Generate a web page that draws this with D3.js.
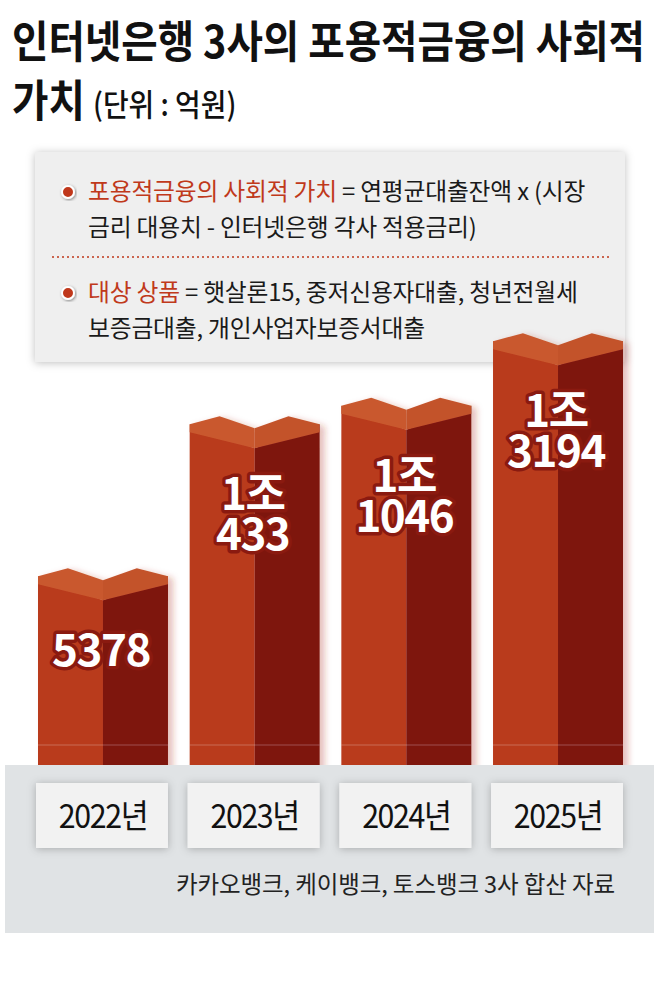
<!DOCTYPE html>
<html>
<head>
<meta charset="utf-8">
<script src="https://cdn.jsdelivr.net/npm/d3@7"></script>
<style>
  html, body { margin: 0; padding: 0; background: #fff; }
  svg { display: block; }
  text { font-family: "Noto Sans CJK KR", "Noto Sans", sans-serif; }
</style>
</head>
<body>
<div id="chart"></div>
<script>
// data
const years = ['2022년', '2023년', '2024년', '2025년'];
const values = [5378, 10433, 11046, 13194];
const labelLines = [['5378'], ['1조', '433'], ['1조', '1046'], ['1조', '3194']];

const width = 659, height = 992;
const svg = d3.select('#chart').append('svg')
    .attr('width', width)
    .attr('height', height);

const defs = svg.append('defs');
const shadow = (id, dx, dy, blur, color) => {
    const f = defs.append('filter').attr('id', id)
        .attr('x', '-20%').attr('y', '-20%').attr('width', '140%').attr('height', '140%');
    f.append('feDropShadow').attr('dx', dx).attr('dy', dy)
        .attr('stdDeviation', blur).attr('flood-color', color);
};
shadow('boxShadow', 0, 1, 4, 'rgba(0,0,0,0.25)');
shadow('barShadow', 5, 2, 3, 'rgba(170,50,30,0.3)');
shadow('dotShadow', 1, 1, 1.5, 'rgba(0,0,0,0.45)');

// title (condensed look via horizontal scale)
svg.append('text')
    .attr('transform', 'translate(12,58) scale(0.9,1)')
    .attr('font-size', 44).attr('font-weight', 700)
    .attr('fill', '#111')
    .text('인터넷은행 3사의 포용적금융의 사회적');

svg.append('text')
    .attr('transform', 'translate(12,117) scale(0.9,1)')
    .attr('font-size', 44).attr('font-weight', 700)
    .attr('fill', '#111')
    .text('가치');
svg.append('text')
    .attr('transform', 'translate(93,116) scale(0.9,1)')
    .attr('font-size', 31).attr('font-weight', 500)
    .attr('fill', '#111')
    .text('(단위 : 억원)');

// legend box
svg.append('rect')
    .attr('x', 35).attr('y', 152)
    .attr('width', 590).attr('height', 210)
    .attr('fill', '#efefef')
    .attr('filter', 'url(#boxShadow)');

const red = '#c0391b';
const legendRows = [
    { y: 200, key: '포용적금융의 사회적 가치', rest: ' = 연평균대출잔액 x (시장', line2: '금리 대용치 - 인터넷은행 각사 적용금리)' },
    { y: 301, key: '대상 상품', rest: ' = 햇살론15, 중저신용자대출, 청년전월세', line2: '보증금대출, 개인사업자보증서대출' }
];
legendRows.forEach(r => {
    svg.append('circle')
        .attr('cx', 68).attr('cy', r.y - 8).attr('r', 6)
        .attr('fill', red).attr('stroke', '#fff').attr('stroke-width', 2)
        .attr('filter', 'url(#dotShadow)');
    const t = svg.append('text')
        .attr('x', 88).attr('y', r.y)
        .attr('font-size', 23.8).attr('letter-spacing', -0.2)
        .attr('fill', '#1a1a1a');
    t.append('tspan').attr('fill', red).text(r.key);
    t.append('tspan').text(r.rest);
    svg.append('text')
        .attr('x', 88).attr('y', r.y + 36)
        .attr('font-size', 23.8).attr('letter-spacing', -0.2)
        .attr('fill', '#1a1a1a')
        .text(r.line2);
});
svg.append('line')
    .attr('x1', 52).attr('x2', 610)
    .attr('y1', 257).attr('y2', 257)
    .attr('stroke', red).attr('stroke-width', 1.5)
    .attr('stroke-dasharray', '2,3');

// scales
const x = d3.scaleBand()
    .domain(years)
    .range([38, 623])
    .paddingInner(0.143);

const y = d3.scaleLinear()
    .domain([0, 14000])
    .range([730, 309]);

const barBottom = 780;

const bars = svg.append('g').selectAll('g.bar')
    .data(years.map((yr, i) => ({ year: yr, value: values[i], lines: labelLines[i] })))
    .join('g')
    .attr('class', 'bar')
    .attr('filter', 'url(#barShadow)');

const pts = a => a.map(p => p.join(',')).join(' ');

bars.each(function(d) {
    const g = d3.select(this);
    const x0 = x(d.year), w = x.bandwidth(), x1 = x0 + w, xm = x0 + w / 2;
    const p = y(d.value);
    // left front face
    g.append('polygon')
        .attr('points', pts([[x0, p + 8], [xm, p + 32], [xm, barBottom], [x0, barBottom]]))
        .attr('fill', '#b93a1c');
    // right front face
    g.append('polygon')
        .attr('points', pts([[xm, p + 32], [x1, p + 8], [x1, barBottom], [xm, barBottom]]))
        .attr('fill', '#7e1511');
    // top face (left / right halves)
    g.append('polygon')
        .attr('points', pts([[x0, p + 8], [x0 + 0.23 * w, p], [xm, p + 12], [xm, p + 32], [x0, p + 16]]))
        .attr('fill', '#c9592f');
    g.append('polygon')
        .attr('points', pts([[xm, p + 12], [xm + 0.26 * w, p], [x1, p + 8], [x1, p + 16], [xm, p + 32]]))
        .attr('fill', '#c3532c');
    // faint horizon line
    g.append('line')
        .attr('x1', x0).attr('x2', x1)
        .attr('y1', 745).attr('y2', 745)
        .attr('stroke', 'rgba(255,255,255,0.25)').attr('stroke-width', 1);
});

// value labels
bars.each(function(d) {
    const g = d3.select(this.parentNode).append('g');
    const cx = x(d.year) + x.bandwidth() / 2 - 2;
    const p = y(d.value);
    const lineYs = d.lines.length === 1 ? [p + 98] : [p + 94, p + 134];
    d.lines.forEach((txt, k) => {
        g.append('text')
            .attr('x', cx).attr('y', lineYs[k])
            .attr('text-anchor', 'middle')
            .attr('font-family', 'Roboto, "Noto Sans CJK KR", sans-serif')
            .attr('font-size', 44).attr('font-weight', 700)
            .attr('letter-spacing', -1.5)
            .attr('fill', '#fff')
            .attr('stroke', '#8a1a10').attr('stroke-width', 7)
            .attr('stroke-linejoin', 'round')
            .attr('paint-order', 'stroke')
            .text(txt);
    });
});

// bottom panel
svg.append('rect')
    .attr('x', 5).attr('y', 765)
    .attr('width', 649).attr('height', 168)
    .attr('fill', '#e0e3e5');

const boxes = svg.append('g').selectAll('g.year')
    .data(years)
    .join('g')
    .attr('class', 'year');
boxes.append('rect')
    .attr('x', d => x(d) - 2)
    .attr('y', 783)
    .attr('width', x.bandwidth() + 2)
    .attr('height', 65)
    .attr('fill', '#f2f2f2')
    .attr('filter', 'url(#boxShadow)');
boxes.append('text')
    .attr('transform', d => `translate(${x(d) + x.bandwidth() / 2},828) scale(0.92,1)`)
    .attr('text-anchor', 'middle')
    .attr('font-size', 33).attr('letter-spacing', -1.5)
    .attr('fill', '#111')
    .text(d => d);

svg.append('text')
    .attr('x', 615).attr('y', 893)
    .attr('text-anchor', 'end')
    .attr('font-size', 23.5).attr('letter-spacing', -0.1)
    .attr('fill', '#222')
    .text('카카오뱅크, 케이뱅크, 토스뱅크 3사 합산 자료');
</script>
</body>
</html>
